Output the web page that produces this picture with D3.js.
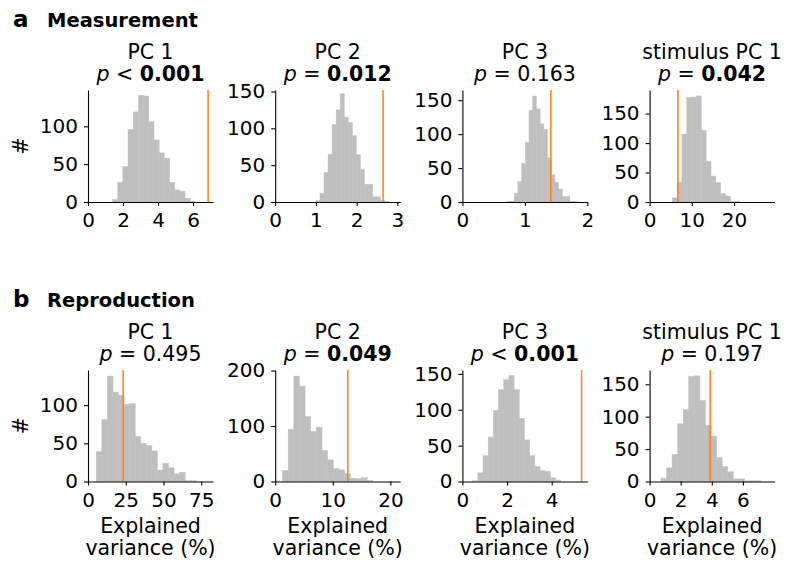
<!DOCTYPE html>
<html lang="en">
<head>
<meta charset="utf-8">
<title>Explained variance histograms</title>
<script src="https://cdn.jsdelivr.net/npm/d3@7"></script>
<style>
  body { margin: 0; background: #fff; }
  svg text { font-family: "DejaVu Sans", sans-serif; fill: #000; }
  .tick text { font-size: 20px; }
  .axis path, .axis line { stroke: #000; stroke-width: 1.1; }
</style>
</head>
<body>
<div id="chart"></div>
<script>
// row / panel labels
var rowLetters = ["a", "b"];
var rowNames = ["Measurement", "Reproduction"];
var panelTitles = ["PC 1", "PC 2", "PC 3", "stimulus PC 1"];
var pRel = [["<", "=", "=", "="], ["=", "=", "<", "="]];
var pVal = [["0.001", "0.012", "0.163", "0.042"], ["0.495", "0.049", "0.001", "0.197"]];
var pBold = [[true, true, false, true], [false, true, true, false]];

// histogram counts (shuffle distributions)
var measPC1 = [3, 26, 47, 96, 119, 141, 140, 106, 82, 65, 58, 26, 16, 14, 5, 1];
var measPC2 = [2, 12, 40, 65, 105, 125, 147, 115, 108, 90, 64, 44, 24, 24, 7, 7, 2, 1];
var measPC3 = [1, 1, 13, 30, 57, 88, 135, 156, 137, 115, 107, 65, 40, 29, 19, 8, 8, 1, 1];
var measStim = [7, 34, 115, 177, 178, 180, 121, 69, 44, 33, 14, 10, 1, 1];
var reprPC1 = [39, 81, 138, 117, 113, 101, 102, 59, 50, 47, 40, 15, 24, 18, 10, 12, 1, 1];
var reprPC2 = [20, 94, 190, 172, 117, 90, 98, 56, 39, 23, 21, 14, 6, 5, 7, 2];
var reprPC3 = [1, 12, 36, 62, 99, 128, 142, 148, 128, 88, 58, 36, 21, 15, 14, 5, 2];
var reprStim = [5, 21, 42, 89, 111, 162, 163, 125, 87, 70, 37, 23, 15, 4, 4, 1, 1, 1];
var counts = [[measPC1, measPC2, measPC3, measStim], [reprPC1, reprPC2, reprPC3, reprStim]];

// bin edges: first edge and bin width
var binStart = [[1.4, 1.0, 0.71, 5.38], [5.5, 1.27, 0.46, 0.73]];
var binWidth = [[0.296, 0.0995, 0.0593, 1.145], [3.68, 0.98, 0.232, 0.358]];

// observed explained variance (orange line)
var observed = [[6.86, 2.65, 1.415, 6.72], [23.3, 12.6, 5.34, 3.9]];

// axis limits and ticks
var xMax = [[7.14, 3.07, 2.0, 29.6], [82.8, 21.7, 5.6, 8.04]];
var yMax = [[148, 152, 165, 190], [146, 201, 155.5, 172]];
var xTicks = [[[0, 2, 4, 6], [0, 1, 2, 3], [0, 1, 2], [0, 10, 20]],
              [[0, 25, 50, 75], [0, 10, 20], [0, 2, 4], [0, 2, 4, 6]]];
var yTicks = [[[0, 50, 100], [0, 50, 100, 150], [0, 50, 100, 150], [0, 50, 100, 150]],
              [[0, 50, 100], [0, 100, 200], [0, 50, 100, 150], [0, 50, 100, 150]]];

var width = 787, height = 563;
var rowTop = [90, 370], rowBase = [202, 481.5];
var panelW = 125, firstLeft = 88, step = 187.2;
var fs = "20.5px";

var svg = d3.select("#chart").append("svg")
    .attr("width", width)
    .attr("height", height);

rowLetters.forEach(function(letter, r) {
  var off = r * 280;
  svg.append("text")
      .attr("x", 13).attr("y", 27 + off)
      .style("font-size", "23px").style("font-weight", "bold")
      .text(letter);
  svg.append("text")
      .attr("x", 47).attr("y", 27 + off)
      .style("font-size", "19.5px").style("font-weight", "bold")
      .text(rowNames[r]);

  // y label
  svg.append("text")
      .attr("transform", "translate(28," + ((rowTop[r] + rowBase[r]) / 2) + ") rotate(-90)")
      .attr("text-anchor", "middle")
      .style("font-size", fs)
      .text("#");

  panelTitles.forEach(function(title, c) {
    var left = firstLeft + c * step;
    var g = svg.append("g").attr("transform", "translate(" + left + ",0)");

    var x = d3.scaleLinear().domain([0, xMax[r][c]]).range([0, panelW]);
    var y = d3.scaleLinear().domain([0, yMax[r][c]]).range([rowBase[r], rowTop[r]]);

    var bins = counts[r][c].map(function(n, i) {
      var x0 = binStart[r][c] + i * binWidth[r][c];
      return {x0: x0, x1: x0 + binWidth[r][c], n: n};
    });

    g.selectAll(".bar")
        .data(bins)
      .enter().append("rect")
        .attr("class", "bar")
        .attr("x", function(d) { return x(d.x0); })
        .attr("width", function(d) { return x(d.x1) - x(d.x0); })
        .attr("y", function(d) { return y(d.n); })
        .attr("height", function(d) { return y(0) - y(d.n); })
        .attr("fill", "#bfbfbf")
        .attr("stroke", "#bfbfbf")
        .attr("stroke-width", 0.5);

    g.append("line")
        .attr("x1", x(observed[r][c])).attr("x2", x(observed[r][c]))
        .attr("y1", y(yMax[r][c])).attr("y2", y(0))
        .attr("stroke", "#ff7f0e")
        .attr("stroke-width", 1.5);

    g.append("g")
        .attr("class", "axis")
        .attr("transform", "translate(0," + rowBase[r] + ")")
        .call(d3.axisBottom(x).tickValues(xTicks[r][c]).tickFormat(d3.format("d"))
              .tickSize(4).tickSizeOuter(0).tickPadding(7));

    g.append("g")
        .attr("class", "axis")
        .call(d3.axisLeft(y).tickValues(yTicks[r][c]).tickFormat(d3.format("d"))
              .tickSize(4).tickSizeOuter(0).tickPadding(6));

    g.selectAll(".axis text").style("font-family", "DejaVu Sans");

    // titles
    g.append("text")
        .attr("x", panelW / 2).attr("y", rowTop[r] - 31)
        .attr("text-anchor", "middle")
        .style("font-size", fs)
        .text(title);

    var pt = g.append("text")
        .attr("x", panelW / 2).attr("y", rowTop[r] - 9)
        .attr("text-anchor", "middle")
        .style("font-size", fs);
    pt.append("tspan").style("font-style", "italic").text("p");
    pt.append("tspan").text(" " + pRel[r][c] + " ");
    pt.append("tspan").style("font-weight", pBold[r][c] ? "bold" : "normal").text(pVal[r][c]);

    if (r === 1) {
      g.append("text")
          .attr("x", panelW / 2).attr("y", 533)
          .attr("text-anchor", "middle")
          .style("font-size", fs)
          .text("Explained");
      g.append("text")
          .attr("x", panelW / 2).attr("y", 555)
          .attr("text-anchor", "middle")
          .style("font-size", fs)
          .text("variance (%)");
    }
  });
});
</script>
</body>
</html>
